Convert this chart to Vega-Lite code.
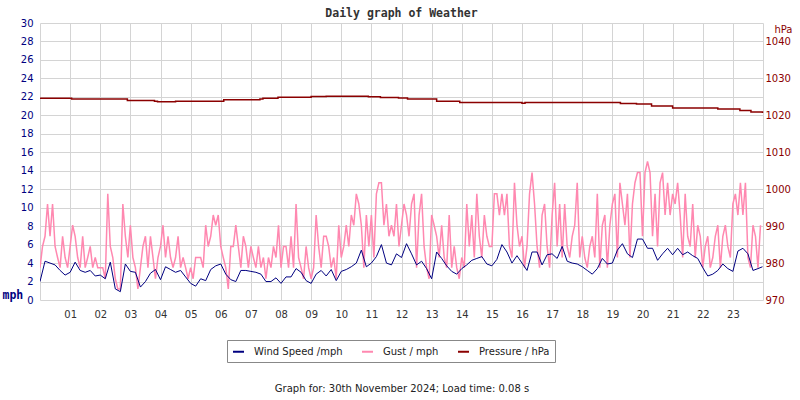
{
  "$schema": "https://vega.github.io/schema/vega-lite/v6.json",
  "width": 723,
  "height": 277,
  "autosize": {"type": "none"},
  "padding": {"left": 40, "top": 23, "right": 37, "bottom": 100},
  "background": "white",
  "title": {"text": "Daily graph of Weather", "font": "DejaVu Sans Mono", "fontSize": 11.5, "fontWeight": "bold", "color": "#333333", "anchor": "middle", "offset": -1},
  "config": {
    "view": {"stroke": null},
    "font": "DejaVu Sans",
    "axis": {"labelFont": "DejaVu Sans", "labelFontSize": 10, "titleFont": "DejaVu Sans", "titleFontSize": 10, "gridColor": "#d4d4d4", "gridOpacity": 1, "domain": false, "ticks": false, "tickSize": 0}
  },
  "datasets": {
    "bands": [
      {"mph": 2, "mph2": 4}, {"mph": 6, "mph2": 8}, {"mph": 10, "mph2": 12}, {"mph": 14, "mph2": 16},
      {"mph": 18, "mph2": 20}, {"mph": 22, "mph2": 24}, {"mph": 26, "mph2": 28}
    ],
    "gust": [
      {"m":0,"mph":3.5},{"m":5,"mph":5.8},{"m":10,"mph":6.9},{"m":15,"mph":10.4},{"m":20,"mph":6.9},{"m":25,"mph":10.4},{"m":30,"mph":5.8},{"m":35,"mph":4.6},{"m":40,"mph":3.5},{"m":45,"mph":6.9},{"m":50,"mph":4.6},{"m":55,"mph":3.5},
      {"m":60,"mph":5.8},{"m":65,"mph":8.1},{"m":70,"mph":6.9},{"m":75,"mph":4.6},{"m":80,"mph":3.5},{"m":85,"mph":6.9},{"m":90,"mph":3.5},{"m":95,"mph":4.6},{"m":100,"mph":5.8},{"m":105,"mph":3.5},{"m":110,"mph":4.6},{"m":115,"mph":3.5},
      {"m":120,"mph":3.5},{"m":125,"mph":3.5},{"m":130,"mph":2.3},{"m":135,"mph":11.5},{"m":140,"mph":5.8},{"m":145,"mph":4.6},{"m":150,"mph":2.3},{"m":155,"mph":1.2},{"m":160,"mph":1.2},{"m":165,"mph":10.4},{"m":170,"mph":6.9},{"m":175,"mph":4.6},
      {"m":180,"mph":8.1},{"m":185,"mph":4.6},{"m":190,"mph":3.5},{"m":195,"mph":1.2},{"m":200,"mph":3.5},{"m":205,"mph":5.8},{"m":210,"mph":6.9},{"m":215,"mph":3.5},{"m":220,"mph":6.9},{"m":225,"mph":4.6},{"m":230,"mph":2.3},{"m":235,"mph":4.6},
      {"m":240,"mph":5.8},{"m":245,"mph":8.1},{"m":250,"mph":4.6},{"m":255,"mph":6.9},{"m":260,"mph":4.6},{"m":265,"mph":3.5},{"m":270,"mph":4.6},{"m":275,"mph":6.9},{"m":280,"mph":3.5},{"m":285,"mph":4.6},{"m":290,"mph":3.5},{"m":295,"mph":2.3},
      {"m":300,"mph":3.5},{"m":305,"mph":2.3},{"m":310,"mph":4.6},{"m":315,"mph":4.6},{"m":320,"mph":4.6},{"m":325,"mph":3.5},{"m":330,"mph":8.1},{"m":335,"mph":5.8},{"m":340,"mph":6.9},{"m":345,"mph":9.2},{"m":350,"mph":8.1},{"m":355,"mph":9.2},
      {"m":360,"mph":5.8},{"m":365,"mph":4.6},{"m":370,"mph":3.5},{"m":375,"mph":1.2},{"m":380,"mph":5.8},{"m":385,"mph":5.8},{"m":390,"mph":8.1},{"m":395,"mph":5.8},{"m":400,"mph":3.5},{"m":405,"mph":6.9},{"m":410,"mph":5.8},{"m":415,"mph":3.5},
      {"m":420,"mph":5.8},{"m":425,"mph":4.6},{"m":430,"mph":3.5},{"m":435,"mph":5.8},{"m":440,"mph":3.5},{"m":445,"mph":4.6},{"m":450,"mph":2.3},{"m":455,"mph":4.6},{"m":460,"mph":3.5},{"m":465,"mph":5.8},{"m":470,"mph":4.6},{"m":475,"mph":8.1},
      {"m":480,"mph":3.5},{"m":485,"mph":5.8},{"m":490,"mph":5.8},{"m":495,"mph":3.5},{"m":500,"mph":6.9},{"m":505,"mph":3.5},{"m":510,"mph":10.4},{"m":515,"mph":4.6},{"m":520,"mph":3.5},{"m":525,"mph":2.3},{"m":530,"mph":5.8},{"m":535,"mph":3.5},
      {"m":540,"mph":2.3},{"m":545,"mph":3.5},{"m":550,"mph":9.2},{"m":555,"mph":5.8},{"m":560,"mph":3.5},{"m":565,"mph":6.9},{"m":570,"mph":6.9},{"m":575,"mph":5.8},{"m":580,"mph":3.5},{"m":585,"mph":4.6},{"m":590,"mph":2.3},{"m":595,"mph":8.1},
      {"m":600,"mph":4.6},{"m":605,"mph":5.8},{"m":610,"mph":8.1},{"m":615,"mph":5.8},{"m":620,"mph":9.2},{"m":625,"mph":8.1},{"m":630,"mph":11.5},{"m":635,"mph":10.4},{"m":640,"mph":8.1},{"m":645,"mph":3.5},{"m":650,"mph":9.2},{"m":655,"mph":5.8},
      {"m":660,"mph":9.2},{"m":665,"mph":4.6},{"m":670,"mph":11.5},{"m":675,"mph":12.7},{"m":680,"mph":12.7},{"m":685,"mph":8.1},{"m":690,"mph":10.4},{"m":695,"mph":6.9},{"m":700,"mph":8.1},{"m":705,"mph":6.9},{"m":710,"mph":10.4},{"m":715,"mph":5.8},
      {"m":720,"mph":8.1},{"m":725,"mph":10.4},{"m":730,"mph":9.2},{"m":735,"mph":6.9},{"m":740,"mph":10.4},{"m":745,"mph":11.5},{"m":750,"mph":3.5},{"m":755,"mph":9.2},{"m":760,"mph":11.5},{"m":765,"mph":5.8},{"m":770,"mph":3.5},{"m":775,"mph":2.3},
      {"m":780,"mph":9.2},{"m":785,"mph":8.1},{"m":790,"mph":6.9},{"m":795,"mph":4.6},{"m":800,"mph":8.1},{"m":805,"mph":4.6},{"m":810,"mph":3.5},{"m":815,"mph":9.2},{"m":820,"mph":3.5},{"m":825,"mph":5.8},{"m":830,"mph":3.5},{"m":835,"mph":2.3},
      {"m":840,"mph":4.6},{"m":845,"mph":3.5},{"m":850,"mph":10.4},{"m":855,"mph":5.8},{"m":860,"mph":9.2},{"m":865,"mph":4.6},{"m":870,"mph":11.5},{"m":875,"mph":6.9},{"m":880,"mph":4.6},{"m":885,"mph":9.2},{"m":890,"mph":6.9},{"m":895,"mph":5.8},
      {"m":900,"mph":5.8},{"m":905,"mph":11.5},{"m":910,"mph":11.5},{"m":915,"mph":9.2},{"m":920,"mph":11.5},{"m":925,"mph":9.2},{"m":930,"mph":11.5},{"m":935,"mph":5.8},{"m":940,"mph":4.6},{"m":945,"mph":12.7},{"m":950,"mph":8.1},{"m":955,"mph":5.8},
      {"m":960,"mph":6.9},{"m":965,"mph":3.5},{"m":970,"mph":5.8},{"m":975,"mph":11.5},{"m":980,"mph":13.8},{"m":985,"mph":10.4},{"m":990,"mph":5.8},{"m":995,"mph":3.5},{"m":1000,"mph":9.2},{"m":1005,"mph":10.4},{"m":1010,"mph":5.8},{"m":1015,"mph":3.5},
      {"m":1020,"mph":9.2},{"m":1025,"mph":12.7},{"m":1030,"mph":5.8},{"m":1035,"mph":10.4},{"m":1040,"mph":4.6},{"m":1045,"mph":10.4},{"m":1050,"mph":5.8},{"m":1055,"mph":4.6},{"m":1060,"mph":6.9},{"m":1065,"mph":8.1},{"m":1070,"mph":12.7},{"m":1075,"mph":4.6},
      {"m":1080,"mph":6.9},{"m":1085,"mph":4.6},{"m":1090,"mph":3.5},{"m":1095,"mph":5.8},{"m":1100,"mph":6.9},{"m":1105,"mph":4.6},{"m":1110,"mph":11.5},{"m":1115,"mph":3.5},{"m":1120,"mph":8.1},{"m":1125,"mph":9.2},{"m":1130,"mph":3.5},{"m":1135,"mph":8.1},
      {"m":1140,"mph":10.4},{"m":1145,"mph":11.5},{"m":1150,"mph":4.6},{"m":1155,"mph":12.7},{"m":1160,"mph":10.4},{"m":1165,"mph":8.1},{"m":1170,"mph":11.5},{"m":1175,"mph":4.6},{"m":1180,"mph":10.4},{"m":1185,"mph":12.7},{"m":1190,"mph":13.8},{"m":1195,"mph":13.8},
      {"m":1200,"mph":6.9},{"m":1205,"mph":13.8},{"m":1210,"mph":15.0},{"m":1215,"mph":13.8},{"m":1220,"mph":6.9},{"m":1225,"mph":11.5},{"m":1230,"mph":5.8},{"m":1235,"mph":12.7},{"m":1240,"mph":13.8},{"m":1245,"mph":9.2},{"m":1250,"mph":12.7},{"m":1255,"mph":9.2},
      {"m":1260,"mph":11.5},{"m":1265,"mph":10.4},{"m":1270,"mph":12.7},{"m":1275,"mph":9.2},{"m":1280,"mph":4.6},{"m":1285,"mph":11.5},{"m":1290,"mph":6.9},{"m":1295,"mph":5.8},{"m":1300,"mph":10.4},{"m":1305,"mph":4.6},{"m":1310,"mph":8.1},{"m":1315,"mph":6.9},
      {"m":1320,"mph":3.5},{"m":1325,"mph":5.8},{"m":1330,"mph":6.9},{"m":1335,"mph":3.5},{"m":1340,"mph":4.6},{"m":1345,"mph":6.9},{"m":1350,"mph":8.1},{"m":1355,"mph":3.5},{"m":1360,"mph":6.9},{"m":1365,"mph":8.1},{"m":1370,"mph":5.8},{"m":1375,"mph":4.6},
      {"m":1380,"mph":10.4},{"m":1385,"mph":11.5},{"m":1390,"mph":9.2},{"m":1395,"mph":12.7},{"m":1400,"mph":9.2},{"m":1405,"mph":12.7},{"m":1410,"mph":4.6},{"m":1415,"mph":3.5},{"m":1420,"mph":8.1},{"m":1425,"mph":6.9},{"m":1430,"mph":3.5},{"m":1435,"mph":8.1}
    ],
    "wind": [
      {"m":0,"mph":2.0},{"m":10,"mph":4.2},{"m":20,"mph":4.0},{"m":30,"mph":3.8},{"m":40,"mph":3.2},{"m":50,"mph":2.7},
      {"m":60,"mph":3.0},{"m":70,"mph":4.1},{"m":80,"mph":3.2},{"m":90,"mph":3.0},{"m":100,"mph":3.2},{"m":110,"mph":2.6},
      {"m":120,"mph":2.7},{"m":130,"mph":2.3},{"m":140,"mph":4.1},{"m":150,"mph":1.2},{"m":160,"mph":0.9},{"m":170,"mph":3.9},
      {"m":180,"mph":3.1},{"m":190,"mph":3.0},{"m":200,"mph":1.4},{"m":210,"mph":2.0},{"m":220,"mph":2.9},{"m":230,"mph":3.3},
      {"m":240,"mph":2.2},{"m":250,"mph":3.6},{"m":260,"mph":3.3},{"m":270,"mph":3.0},{"m":280,"mph":3.2},{"m":290,"mph":2.5},
      {"m":300,"mph":1.8},{"m":310,"mph":1.5},{"m":320,"mph":2.3},{"m":330,"mph":2.1},{"m":340,"mph":3.3},{"m":350,"mph":3.7},
      {"m":360,"mph":3.9},{"m":370,"mph":2.8},{"m":380,"mph":2.2},{"m":390,"mph":2.0},{"m":400,"mph":3.2},{"m":410,"mph":3.2},
      {"m":420,"mph":3.1},{"m":430,"mph":3.0},{"m":440,"mph":2.8},{"m":450,"mph":2.0},{"m":460,"mph":2.0},{"m":470,"mph":2.4},
      {"m":480,"mph":1.8},{"m":490,"mph":2.5},{"m":500,"mph":2.5},{"m":510,"mph":3.4},{"m":520,"mph":3.0},{"m":530,"mph":2.1},
      {"m":540,"mph":1.8},{"m":550,"mph":2.8},{"m":560,"mph":3.2},{"m":570,"mph":2.6},{"m":580,"mph":3.3},{"m":590,"mph":2.1},
      {"m":600,"mph":3.1},{"m":610,"mph":3.3},{"m":620,"mph":3.6},{"m":630,"mph":4.0},{"m":640,"mph":5.4},{"m":650,"mph":3.6},
      {"m":660,"mph":4.0},{"m":670,"mph":4.7},{"m":680,"mph":6.0},{"m":690,"mph":4.0},{"m":700,"mph":3.8},{"m":710,"mph":5.0},
      {"m":720,"mph":4.6},{"m":730,"mph":6.1},{"m":740,"mph":5.0},{"m":750,"mph":3.8},{"m":760,"mph":4.2},{"m":770,"mph":3.4},
      {"m":780,"mph":2.3},{"m":790,"mph":5.2},{"m":800,"mph":4.5},{"m":810,"mph":3.7},{"m":820,"mph":3.1},{"m":830,"mph":2.8},
      {"m":840,"mph":3.4},{"m":850,"mph":3.8},{"m":860,"mph":4.3},{"m":870,"mph":4.5},{"m":880,"mph":4.7},{"m":890,"mph":3.9},
      {"m":900,"mph":3.7},{"m":910,"mph":4.4},{"m":920,"mph":6.0},{"m":930,"mph":5.2},{"m":940,"mph":4.0},{"m":950,"mph":4.8},
      {"m":960,"mph":4.0},{"m":970,"mph":3.2},{"m":980,"mph":5.2},{"m":990,"mph":5.2},{"m":1000,"mph":3.8},{"m":1010,"mph":4.9},
      {"m":1020,"mph":5.0},{"m":1030,"mph":4.5},{"m":1040,"mph":5.8},{"m":1050,"mph":4.2},{"m":1060,"mph":4.0},{"m":1070,"mph":3.9},
      {"m":1080,"mph":3.6},{"m":1090,"mph":3.2},{"m":1100,"mph":2.8},{"m":1110,"mph":3.4},{"m":1120,"mph":4.5},{"m":1130,"mph":3.9},
      {"m":1140,"mph":4.0},{"m":1150,"mph":5.4},{"m":1160,"mph":6.1},{"m":1170,"mph":5.0},{"m":1180,"mph":4.6},{"m":1190,"mph":6.6},
      {"m":1200,"mph":6.6},{"m":1210,"mph":5.6},{"m":1220,"mph":5.6},{"m":1230,"mph":4.3},{"m":1240,"mph":5.0},{"m":1250,"mph":5.6},
      {"m":1260,"mph":4.9},{"m":1270,"mph":5.6},{"m":1280,"mph":4.9},{"m":1290,"mph":5.2},{"m":1300,"mph":4.8},{"m":1310,"mph":4.5},
      {"m":1320,"mph":3.5},{"m":1330,"mph":2.6},{"m":1340,"mph":2.8},{"m":1350,"mph":3.2},{"m":1360,"mph":3.9},{"m":1370,"mph":3.4},
      {"m":1380,"mph":3.1},{"m":1390,"mph":5.3},{"m":1400,"mph":5.6},{"m":1410,"mph":5.0},{"m":1420,"mph":3.2},{"m":1430,"mph":3.4},{"m":1439,"mph":3.6}
    ],
    "pressure": [
      {"m":0,"hPa":1024.6},{"m":63,"hPa":1024.4},{"m":174,"hPa":1024.0},{"m":228,"hPa":1023.8},{"m":234,"hPa":1023.7},{"m":270,"hPa":1023.8},
      {"m":366,"hPa":1024.2},{"m":438,"hPa":1024.4},{"m":444,"hPa":1024.6},{"m":474,"hPa":1024.9},{"m":540,"hPa":1025.1},{"m":570,"hPa":1025.2},
      {"m":654,"hPa":1025.0},{"m":678,"hPa":1024.8},{"m":714,"hPa":1024.7},{"m":732,"hPa":1024.4},{"m":790,"hPa":1023.8},{"m":836,"hPa":1023.5},
      {"m":960,"hPa":1023.3},{"m":966,"hPa":1023.5},{"m":1128,"hPa":1023.5},{"m":1156,"hPa":1023.2},{"m":1188,"hPa":1023.1},{"m":1218,"hPa":1022.5},
      {"m":1260,"hPa":1022.0},{"m":1350,"hPa":1021.7},{"m":1394,"hPa":1021.3},{"m":1416,"hPa":1020.9},{"m":1439,"hPa":1020.6}
    ]
  },
  "encoding": {
    "x": {
      "field": "m", "type": "quantitative",
      "scale": {"domain": [0, 1440], "nice": false, "zero": false},
      "axis": {
        "values": [0,60,120,180,240,300,360,420,480,540,600,660,720,780,840,900,960,1020,1080,1140,1200,1260,1320,1380,1440],
        "labelExpr": "datum.value == 0 || datum.value == 1440 ? '' : (datum.value < 600 ? '0' : '') + (datum.value / 60)",
        "grid": true, "labelColor": "#333333", "labelPadding": 9, "labelFlush": false, "labelOverlap": false,
        "title": "Graph for: 30th November 2024; Load time: 0.08 s",
        "titleFontWeight": "normal", "titleColor": "#222222", "titleY": 88, "titleBaseline": "middle"
      }
    }
  },
  "layer": [
    {
      "encoding": {
        "y": {
          "field": "mph", "type": "quantitative",
          "scale": {"domain": [0, 30], "nice": false},
          "axis": {
            "orient": "left", "values": [0,2,4,6,8,10,12,14,16,18,20,22,24,26,28,30],
            "grid": true, "labelColor": "#000080", "labelPadding": 7, "labelFlush": false,
            "title": "mph", "titleAngle": 0, "titleX": -38, "titleY": 272, "titleAlign": "left", "titleBaseline": "middle",
            "titleFont": "DejaVu Sans Mono", "titleFontSize": 11.5, "titleFontWeight": "bold", "titleColor": "#000080"
          }
        }
      },
      "layer": [
        {
          "data": {"name": "bands"},
          "mark": {"type": "rect", "fill": "#f2f2f2"},
          "encoding": {"x": {"datum": 0}, "x2": {"datum": 1440}, "y2": {"field": "mph2"}}
        },
        {
          "data": {"name": "gust"},
          "mark": {"type": "line", "strokeWidth": 1.5, "clip": true},
          "encoding": {
            "color": {
              "datum": "Gust / mph", "type": "nominal",
              "scale": {"domain": ["Wind Speed /mph", "Gust / mph", "Pressure / hPa"], "range": ["#000080", "#ff88b0", "#8b0000"]},
              "legend": {
                "orient": "none", "legendX": 187, "legendY": 317, "direction": "horizontal", "title": null,
                "symbolType": "stroke", "symbolStrokeWidth": 2, "symbolSize": 121,
                "labelFont": "DejaVu Sans", "labelFontSize": 10, "labelColor": "#222222", "labelOffset": 9,
                "columnPadding": 15, "padding": 5, "strokeColor": "#888888", "fillColor": "white"
              }
            }
          }
        },
        {
          "data": {"name": "wind"},
          "mark": {"type": "line", "strokeWidth": 1, "clip": true},
          "encoding": {"color": {"datum": "Wind Speed /mph", "type": "nominal"}}
        }
      ]
    },
    {
      "data": {"name": "pressure"},
      "mark": {"type": "line", "strokeWidth": 1.5, "interpolate": "step-after"},
      "encoding": {
        "y": {
          "field": "hPa", "type": "quantitative",
          "scale": {"domain": [970, 1045], "nice": false, "zero": false},
          "axis": {
            "orient": "right", "values": [970,980,990,1000,1010,1020,1030,1040], "format": "d",
            "grid": false, "labelColor": "#8b0000", "labelPadding": 2, "labelFlush": false,
            "title": "hPa", "titleAngle": 0, "titleX": 29, "titleY": 6, "titleAlign": "right", "titleBaseline": "middle",
            "titleFontWeight": "normal", "titleColor": "#8b0000"
          }
        },
        "color": {"datum": "Pressure / hPa", "type": "nominal"}
      }
    }
  ],
  "resolve": {"scale": {"y": "independent"}}
}
